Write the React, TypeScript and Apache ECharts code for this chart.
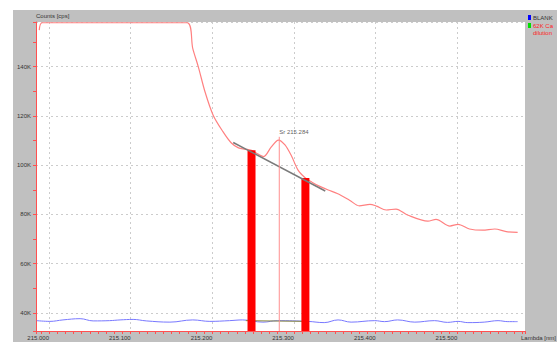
import React, { useEffect, useRef } from "react";
import * as echarts from "echarts";

const FONT = "'Liberation Sans', Arial, sans-serif";

// X axis (Lambda [nm]) and Y axis (Counts [cps]) extents
const xMin = 214.984;
const xMax = 215.583;
const yMin = 32700;
const yMax = 158100;

// Red spectrum: 62K Ca dilution
const sampleX = [
  214.988, 214.9915, 215.169, 215.176, 215.183, 215.191, 215.201, 215.213, 215.223,
  215.232, 215.24, 215.248, 215.256, 215.263, 215.272, 215.281, 215.289, 215.297,
  215.305, 215.314, 215.322, 215.331, 215.342, 215.353, 215.368, 215.38, 215.393,
  215.401, 215.413, 215.425, 215.439, 215.464, 215.474, 215.491, 215.501, 215.515,
  215.531, 215.546, 215.56, 215.574,
];
const sampleY = [
  154800, 157800, 157800, 147400, 139700, 129800, 120300, 113600, 109100,
  107000, 106500, 106000, 104500, 103500, 107300, 110200, 108200, 103700,
  98000, 94800, 93100, 91500, 89900, 88500, 85800, 83500, 84100,
  83400, 81800, 82200, 79800, 77300, 78000, 75300, 76000, 74100,
  73600, 74100, 73000, 72700,
];

// Blue spectrum: BLANK
const blankX = [
  214.985, 215.001, 215.017, 215.038, 215.054, 215.074, 215.087, 215.103, 215.119,
  215.148, 215.176, 215.197, 215.221, 215.237, 215.262, 215.28, 215.317, 215.337,
  215.354, 215.37, 215.399, 215.411, 215.427, 215.448, 215.472, 215.488, 215.501,
  215.513, 215.533, 215.55, 215.562, 215.574,
];
const blankY = [
  36900, 36600, 37200, 37700, 36800, 36900, 37200, 37400, 36800,
  36300, 37200, 36600, 36900, 37200, 36300, 36900, 36600, 36100,
  37200, 36300, 36900, 36500, 37200, 36300, 36900, 36200, 36600,
  36100, 36300, 36900, 36500, 36500,
];

// Background-correction windows (red bars)
const bgX = [215.248, 215.314];
const bgY = [106100, 94800];

// Blank baseline segment
const blankBaseX = [215.241, 215.316];
const blankBaseY = [36900, 36600];

// Background line through the peak
const baseLineX = [215.2256, 215.3383];
const baseLineY = [109200, 89500];

// Peak marker
const peakName = "Sr 215.284";
const peakX = 215.282;
const peakTop = 111500;

const zip = (xs: number[], ys: number[]) => xs.map((x, i) => [x, ys[i]]);

export default function App() {
  const ref = useRef<HTMLDivElement>(null);

  useEffect(() => {
    if (!ref.current) return;
    const chart = echarts.init(ref.current, null, { renderer: "svg" });
    const txt = { fontFamily: FONT, fontSize: 6, color: "#333" };
    chart.setOption({
      animation: false,
      backgroundColor: "#ffffff",
      textStyle: { fontFamily: FONT },
      title: {
        text: "Counts [cps]",
        left: 36,
        top: 13,
        padding: 0,
        textStyle: { ...txt, fontWeight: "normal" },
      },
      graphic: [
        {
          type: "rect",
          z: -10,
          shape: { x: 13, y: 10, width: 544, height: 332 },
          style: { fill: "#c0c0c0" },
          silent: true,
        },
        { type: "rect", shape: { x: 528, y: 15, width: 3, height: 5 }, style: { fill: "#0000ff" } },
        { type: "rect", shape: { x: 528, y: 23, width: 3, height: 5 }, style: { fill: "#00e000" } },
        { type: "text", x: 533, y: 17.5, style: { text: "BLANK", fill: "#333", font: `6px ${FONT}`, verticalAlign: "middle" } },
        { type: "text", x: 533, y: 25.5, style: { text: "62K Ca", fill: "#ff2020", font: `6px ${FONT}`, verticalAlign: "middle" } },
        { type: "text", x: 533, y: 32.5, style: { text: "dilution", fill: "#ff2020", font: `6px ${FONT}`, verticalAlign: "middle" } },
      ],
      grid: {
        left: 36,
        right: 32,
        top: 22,
        bottom: 11,
        outerBoundsMode: "none",
        containLabel: false,
        show: true,
        backgroundColor: "#ffffff",
        borderWidth: 0,
      },
      xAxis: {
        type: "value",
        min: xMin,
        max: xMax,
        splitNumber: 5,
        name: "Lambda [nm]",
        nameLocation: "end",
        nameGap: 31,
        nameTextStyle: { ...txt, align: "right", verticalAlign: "top", padding: [4, 0, 0, 0] },
        axisLine: { show: true, onZero: false, lineStyle: { color: "#ff5050", width: 1 } },
        axisTick: { show: true, length: 3, lineStyle: { color: "#ff5050" } },
        minorTick: { show: true, splitNumber: 10, length: 3, lineStyle: { color: "#ff5050" } },
        axisLabel: {
          ...txt,
          margin: 4,
          align: "right",
          showMinLabel: false,
          showMaxLabel: false,
          formatter: (v: number) => v.toFixed(3),
        },
        splitLine: {
          show: true,
          showMinLine: false,
          showMaxLine: false,
          lineStyle: { color: "#cccccc", type: [2, 3], width: 1 },
        },
      },
      yAxis: {
        type: "value",
        min: yMin,
        max: yMax,
        splitNumber: 6,
        axisLine: { show: true, onZero: false, lineStyle: { color: "#ff5050", width: 1 } },
        axisTick: { show: true, length: 3, lineStyle: { color: "#ff5050" } },
        minorTick: { show: true, splitNumber: 2, length: 3, lineStyle: { color: "#ff5050" } },
        axisLabel: {
          ...txt,
          margin: 5,
          showMinLabel: false,
          showMaxLabel: false,
          formatter: (v: number) => (Math.round(v) % 20000 === 0 ? `${Math.round(v / 1000)}K` : ""),
        },
        splitLine: {
          show: true,
          showMinLine: false,
          showMaxLine: true,
          lineStyle: { color: "#cccccc", type: [2, 3], width: 1 },
        },
      },
      series: [
        {
          name: "BLANK",
          type: "line",
          data: zip(blankX, blankY),
          smooth: 0.4,
          symbol: "none",
          lineStyle: { color: "#7878ff", width: 1 },
          z: 2,
        },
        {
          name: "BLANK baseline",
          type: "line",
          data: zip(blankBaseX, blankBaseY),
          symbol: "none",
          lineStyle: { color: "#8c8c40", width: 1 },
          z: 3,
        },
        {
          name: "62K Ca dilution",
          type: "line",
          data: zip(sampleX, sampleY),
          smooth: 0.3,
          symbol: "none",
          lineStyle: { color: "#ff8080", width: 1.2 },
          z: 3,
        },
        {
          name: "Background",
          type: "bar",
          data: zip(bgX, bgY),
          barWidth: 8,
          itemStyle: { color: "#ff0000" },
          z: 4,
        },
        {
          name: "Baseline",
          type: "line",
          data: zip(baseLineX, baseLineY),
          symbol: "none",
          lineStyle: { color: "#7a7a7a", width: 1.5 },
          z: 5,
        },
        {
          name: "Peak",
          type: "line",
          data: [
            [peakX, yMin],
            [peakX, peakTop],
          ],
          symbol: "none",
          lineStyle: { color: "#ff9090", width: 1 },
          z: 5,
        },
        {
          name: "Peak label",
          type: "scatter",
          data: [[peakX, peakTop]],
          symbolSize: 1,
          itemStyle: { color: "rgba(0,0,0,0)" },
          label: {
            show: true,
            position: "top",
            align: "left",
            distance: 1,
            formatter: () => peakName,
            ...txt,
          },
          z: 6,
        },
      ],
    });
    return () => chart.dispose();
  }, []);

  return (
    <div
      ref={ref}
      style={{ position: "absolute", left: 0, top: 0, width: 557, height: 342 }}
    />
  );
}
